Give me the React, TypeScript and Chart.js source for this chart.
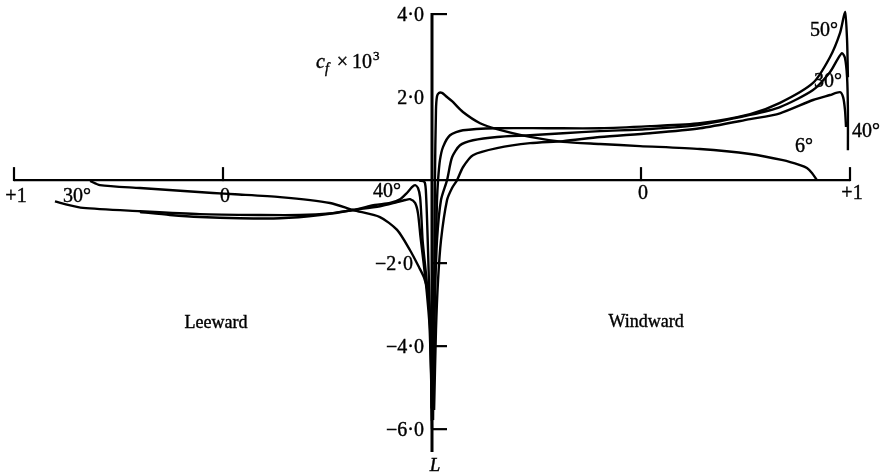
import React, { useEffect, useRef } from "react";
import { Chart, registerables } from "chart.js";

Chart.register(...registerables);

type Pt = [number, number];

// Surface coordinate: leeward +1 at x = -2, leeward 0 at x = -1, edge L at x = 0,
// windward 0 at x = 1, windward +1 at x = 2.  Values are cf × 10³.
const xTickPositions = [-2, -1, 1, 2];
const xTickLabels = ["+1", "0", "0", "+1"];
const yTickValues = [4, 2, -2, -4, -6];
const yTickLabels = ["4·0", "2·0", "−2·0", "−4·0", "−6·0"];

// Windward side
const windward6: Pt[] = [
  [0.005, -5.78], [0.01, -2.89], [0.014, 0], [0.019, 1.69], [0.024, 2.02],
  [0.033, 2.1], [0.048, 2.1], [0.067, 2.02], [0.096, 1.9], [0.148, 1.64],
  [0.23, 1.37], [0.311, 1.23], [0.469, 1.04], [0.627, 0.92], [0.804, 0.87],
  [0.995, 0.82], [1.282, 0.75], [1.522, 0.63], [1.679, 0.48], [1.761, 0.36],
  [1.794, 0.29], [1.818, 0.17], [1.842, 0],
];

const windward50: Pt[] = [
  [0.002, -5.54], [0.01, -2.89], [0.019, -1.45], [0.024, -0.48], [0.029, 0],
  [0.038, 0.48], [0.053, 0.8], [0.086, 1.08], [0.148, 1.2], [0.311, 1.25],
  [0.55, 1.25], [0.804, 1.25], [1.043, 1.3], [1.282, 1.37], [1.522, 1.59],
  [1.665, 1.86], [1.823, 2.34], [1.904, 2.96], [1.952, 3.54], [1.976, 4.05],
  [1.986, 3.37], [1.99, 2.48],
];

const windward40: Pt[] = [
  [0.005, -5.3], [0.014, -2.89], [0.024, -1.45], [0.043, -0.48], [0.072, 0],
  [0.096, 0.55], [0.134, 0.84], [0.196, 0.96], [0.311, 1.04], [0.469, 1.08],
  [0.627, 1.13], [0.804, 1.18], [1.043, 1.23], [1.282, 1.33], [1.522, 1.57],
  [1.665, 1.76], [1.823, 2.17], [1.904, 2.6], [1.938, 2.89], [1.962, 3.06],
  [1.976, 2.94], [1.986, 2.48], [1.99, 1.69], [1.99, 0.72],
];

const windward30: Pt[] = [
  [0.01, -5.54], [0.019, -3.61], [0.029, -2.41], [0.043, -1.45], [0.072, -0.48],
  [0.096, -0.19], [0.12, 0], [0.148, 0.31], [0.196, 0.6], [0.311, 0.77],
  [0.469, 0.89], [0.627, 0.94], [0.804, 1.04], [1.043, 1.13], [1.282, 1.25],
  [1.522, 1.47], [1.665, 1.61], [1.823, 1.93], [1.904, 2.05], [1.952, 2.12],
  [1.967, 2.0], [1.976, 1.69], [1.981, 1.28],
];

// Leeward side
const leewardOuter: Pt[] = [
  [-1.636, -0.02], [-1.589, -0.12], [-1.397, -0.19], [-1.048, -0.31],
  [-0.943, -0.34], [-0.727, -0.41], [-0.488, -0.55], [-0.378, -0.72],
  [-0.249, -0.89], [-0.167, -1.2], [-0.105, -1.69], [-0.062, -2.1],
  [-0.038, -2.35], [-0.02, -2.7], [-0.008, -3.4], [-0.003, -4.5], [0, -5.3],
];

const leewardEdge: Pt[] = [
  [-0.06, -0.01], [-0.035, -0.05], [-0.028, -0.4], [-0.022, -1.2],
  [-0.016, -2.2], [-0.01, -3.3], [-0.004, -4.6], [0, -5.8],
];

const leeward30: Pt[] = [
  [-1.804, -0.51], [-1.756, -0.58], [-1.67, -0.67], [-1.397, -0.75],
  [-1.11, -0.82], [-0.823, -0.84], [-0.632, -0.84], [-0.488, -0.8],
  [-0.378, -0.72], [-0.249, -0.63], [-0.167, -0.53], [-0.129, -0.48],
  [-0.105, -0.46], [-0.081, -0.55], [-0.067, -0.8], [-0.055, -1.37],
  [-0.04, -2.0], [-0.025, -2.7], [-0.012, -3.5], [-0.004, -4.8], [0, -6.0],
];

const leeward40: Pt[] = [
  [-1.397, -0.77], [-1.254, -0.84], [-1.11, -0.89], [-0.919, -0.92],
  [-0.727, -0.92], [-0.536, -0.84], [-0.378, -0.72], [-0.273, -0.6],
  [-0.201, -0.55], [-0.153, -0.46], [-0.12, -0.31], [-0.096, -0.17],
  [-0.081, -0.12], [-0.067, -0.19], [-0.057, -0.41], [-0.05, -0.96],
  [-0.045, -1.45], [-0.03, -2.2], [-0.015, -3.0], [-0.006, -4.0], [-0.002, -5.5],
];

const curves: Pt[][] = [
  windward6, windward50, windward40, windward30,
  leewardOuter, leewardEdge, leeward30, leeward40,
];

const SERIF = "'Liberation Serif', 'DejaVu Serif', serif";

// Draws text with a hairline outline so it matches the weight of the plotted lines.
function heavyText(ctx: CanvasRenderingContext2D, t: string, x: number, y: number) {
  ctx.fillText(t, x, y);
  ctx.strokeText(t, x, y);
}

const axesAndText = {
  id: "axesAndText",
  beforeDatasetsDraw(chart: any) {
    const { ctx, scales } = chart;
    const xs = scales.x;
    const ys = scales.y;
    const y0 = ys.getPixelForValue(0);
    const xL = xs.getPixelForValue(0);
    ctx.save();
    ctx.strokeStyle = "#000";
    ctx.lineCap = "butt";

    // horizontal axis with upward ticks
    ctx.lineWidth = 2.2;
    ctx.beginPath();
    ctx.moveTo(xs.getPixelForValue(-2), y0);
    ctx.lineTo(xs.getPixelForValue(2), y0);
    ctx.stroke();
    xTickPositions.forEach((v) => {
      const px = xs.getPixelForValue(v);
      ctx.beginPath();
      ctx.moveTo(px, y0 + 1);
      ctx.lineTo(px, y0 - 13);
      ctx.stroke();
    });

    // vertical axis through L
    ctx.lineWidth = 3;
    ctx.beginPath();
    ctx.moveTo(xL, ys.getPixelForValue(4) - 1);
    ctx.lineTo(xL, ys.getPixelForValue(-6.55));
    ctx.stroke();
    ctx.lineWidth = 2.2;
    yTickValues.forEach((v) => {
      if (v === 2) return;
      const py = ys.getPixelForValue(v);
      ctx.beginPath();
      ctx.moveTo(xL - 1, py);
      ctx.lineTo(xL + 15, py);
      ctx.stroke();
    });
    ctx.restore();
  },
  afterDatasetsDraw(chart: any) {
    const { ctx, scales } = chart;
    const xs = scales.x;
    const ys = scales.y;
    const px = (v: number) => xs.getPixelForValue(v);
    const py = (v: number) => ys.getPixelForValue(v);
    const y0 = py(0);
    const xL = px(0);
    ctx.save();
    ctx.fillStyle = "#000";
    ctx.strokeStyle = "#000";
    ctx.lineWidth = 0.4;
    ctx.font = `20px ${SERIF}`;
    ctx.textBaseline = "middle";

    // horizontal axis labels
    ctx.textAlign = "center";
    xTickPositions.forEach((v, i) => {
      const off = v > 0 ? 14 : 17;
      heavyText(ctx, xTickLabels[i], px(v) + 2, y0 + off);
    });

    // vertical axis labels
    ctx.textAlign = "right";
    yTickValues.forEach((v, i) => {
      const shift = v === -2 ? 19 : 8;
      heavyText(ctx, yTickLabels[i], xL - shift, py(v) + 2);
    });

    // curve labels
    ctx.textAlign = "center";
    const labels: [string, number, number][] = [
      ["30°", -1.699, -0.39],
      ["40°", -0.215, -0.27],
      ["50°", 1.876, 3.61],
      ["30°", 1.895, 2.36],
      ["40°", 2.077, 1.16],
      ["6°", 1.78, 0.8],
    ];
    labels.forEach(([t, u, v]) => heavyText(ctx, t, px(u), py(v)));

    ctx.font = `18px ${SERIF}`;
    heavyText(ctx, "Leeward", px(-1.033), py(-3.45));
    heavyText(ctx, "Windward", px(1.024), py(-3.42));

    // edge marker below the vertical axis
    ctx.font = `italic 19px ${SERIF}`;
    heavyText(ctx, "L", px(0.014), py(-6.89));

    // quantity label: c_f × 10^3
    ctx.textAlign = "left";
    ctx.textBaseline = "alphabetic";
    let x = px(-0.555);
    const base = py(2.7);
    ctx.font = `italic 20px ${SERIF}`;
    heavyText(ctx, "c", x, base);
    x += ctx.measureText("c").width;
    ctx.font = `italic 14px ${SERIF}`;
    heavyText(ctx, "f", x, base + 5);
    x += ctx.measureText("f").width + 8;
    ctx.font = `20px ${SERIF}`;
    heavyText(ctx, "×", x, base);
    x += ctx.measureText("×").width + 4;
    heavyText(ctx, "10", x, base);
    x += ctx.measureText("10").width + 1;
    ctx.font = `13px ${SERIF}`;
    heavyText(ctx, "3", x, base - 8);
    ctx.restore();
  },
};

export default function App() {
  const canvasRef = useRef<HTMLCanvasElement | null>(null);

  useEffect(() => {
    const canvas = canvasRef.current;
    if (!canvas) return;
    const chart = new Chart(canvas, {
      type: "line",
      data: {
        datasets: curves.map((c) => ({
          data: c.map(([x, y]) => ({ x, y })),
          borderColor: "#000",
          borderWidth: 2.4,
          pointRadius: 0,
          tension: 0.25,
          fill: false,
          clip: false as any,
        })),
      },
      options: {
        responsive: false,
        animation: false,
        events: [],
        layout: { padding: { left: 14, right: 33, top: 12, bottom: 24 } },
        plugins: { legend: { display: false }, tooltip: { enabled: false } },
        scales: {
          x: { type: "linear", min: -2, max: 2, display: false },
          y: { type: "linear", min: -6.55, max: 4.05, display: false },
        },
      },
      plugins: [axesAndText],
    });
    return () => chart.destroy();
  }, []);

  return (
    <div style={{ position: "fixed", left: 0, top: 0, width: 883, height: 476, background: "#fff" }}>
      <canvas ref={canvasRef} width={883} height={476} style={{ display: "block" }} />
    </div>
  );
}
